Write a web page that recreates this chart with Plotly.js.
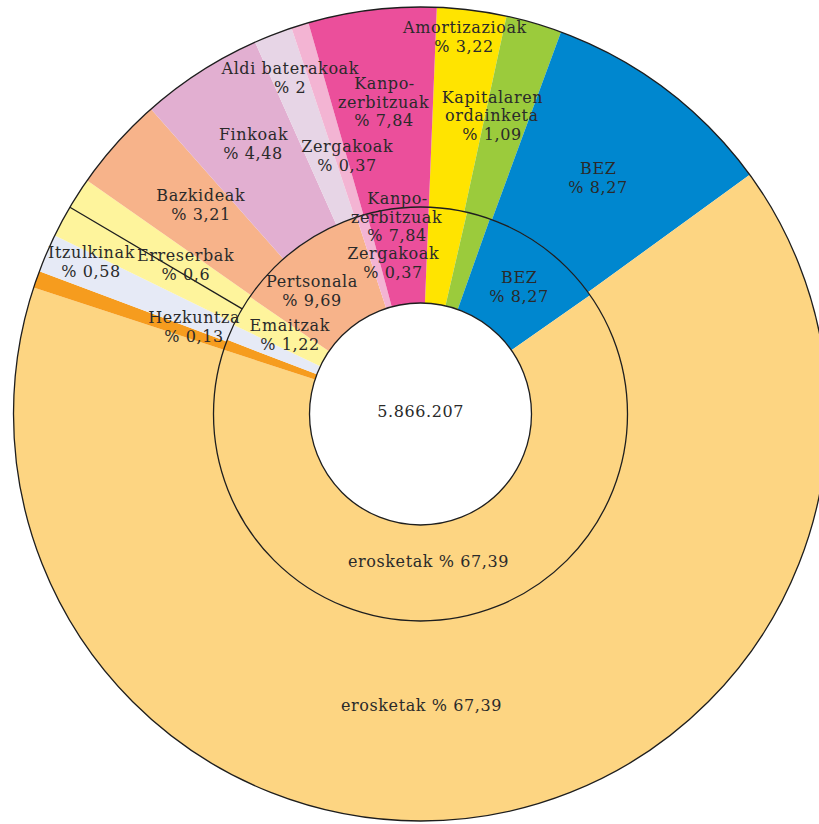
<!DOCTYPE html>
<html>
<head>
<meta charset="utf-8">
<script src="https://cdn.plot.ly/plotly-3.0.1.min.js"></script>
<style>
html, body { margin: 0; padding: 0; overflow: hidden; background: #fff; }
#chart { width: 841px; height: 824px; }
#chart .annotation-text { letter-spacing: 0.6px; }
</style>
</head>
<body>
<div id="chart"></div>
<script>
// ---- Data (shares of the circle) ----
const innerLabels = ["Amortizazioak", "Kapitalaren ordainketa", "BEZ", "erosketak", "Hezkuntza",
  "Itzulkinak", "Emaitzak", "Pertsonala", "Zergakoak", "Kanpo-zerbitzuak"];
const innerValues = [2.97, 1.83, 9.83, 64.75, 0.81, 1.25, 2.50, 10.42, 0.83, 4.81];
const innerColors = ["#FFE400", "#9BCB3C", "#0087CF", "#FDD582", "#F69C1E",
  "#E6EAF6", "#FEF49C", "#F7B38A", "#F3B4D3", "#EB4F9B"];

const outerLabels = ["Amortizazioak ", "Kapitalaren ordainketa ", "BEZ ", "erosketak ", "Hezkuntza ",
  "Itzulkinak ", "Emaitzak (beste)", "Erreserbak", "Bazkideak", "Finkoak", "Aldi baterakoak",
  "Zergakoak ", "Kanpo-zerbitzuak "];
const outerValues = [2.75, 2.22, 9.39, 65.03, 0.67, 1.53, 1.25, 1.25, 3.75, 4.86, 1.53, 0.69, 5.08];
const outerColors = ["#FFE400", "#9BCB3C", "#0087CF", "#FDD582", "#F69C1E",
  "#E6EAF6", "#FEF49C", "#FEF49C", "#F7B38A", "#E2AFD1", "#E7D5E6", "#F3B4D3", "#EB4F9B"];

const startAngle = 2.3; // degrees clockwise from 12 o'clock
const totalText = "5.866.207";

// label texts (percentages as printed): lines, centre x, centre y of block
const outerTexts = [
  [["Amortizazioak", "% 3,22"], 464, 37],
  [["Kapitalaren", "ordainketa", "% 1,09"], 492, 116],
  [["BEZ", "% 8,27"], 598, 178],
  [["erosketak % 67,39"], 422, 705],
  [["Hezkuntza", "% 0,13"], 194, 327],
  [["Itzulkinak", "% 0,58"], 91, 262],
  [["Erreserbak", "% 0,6"], 186, 265],
  [["Bazkideak", "% 3,21"], 201, 205],
  [["Finkoak", "% 4,48"], 253, 144],
  [["Aldi baterakoak", "% 2"], 290, 78],
  [["Zergakoak", "% 0,37"], 347, 156],
  [["Kanpo-", "zerbitzuak", "% 7,84"], 384, 102]
];
const innerTexts = [
  [["BEZ", "% 8,27"], 519, 287],
  [["erosketak % 67,39"], 428, 561],
  [["Emaitzak", "% 1,22"], 290, 335],
  [["Pertsonala", "% 9,69"], 312, 291],
  [["Zergakoak", "% 0,37"], 393, 263],
  [["Kanpo-", "zerbitzuak", "% 7,84"], 397, 217]
];

// ---- Geometry (pixels) ----
const W = 841, H = 824;
const CX = 420.5, CY = 414;       // centre, from top-left
const R_OUT = 407, R_MID = 207, R_HOLE = 111;
const LINE_GAP = 18.5;

const px = x => x / W;
const py = y => 1 - y / H;

function domainFor(r) {
  return { x: [px(CX - r), px(CX + r)], y: [py(CY + r), py(CY - r)] };
}

const outerPie = {
  type: "pie", labels: outerLabels, values: outerValues, sort: false,
  direction: "clockwise", rotation: startAngle, hole: R_MID / R_OUT,
  marker: { colors: outerColors, line: { width: 0 } },
  textinfo: "none", hoverinfo: "none", domain: domainFor(R_OUT), showlegend: false
};
const innerPie = {
  type: "pie", labels: innerLabels, values: innerValues, sort: false,
  direction: "clockwise", rotation: startAngle, hole: R_HOLE / R_MID,
  marker: { colors: innerColors, line: { width: 0 } },
  textinfo: "none", hoverinfo: "none", domain: domainFor(R_MID), showlegend: false
};

const font = { family: "DejaVu Serif, Liberation Serif, serif", size: 16, color: "#2a2a2a" };
const annotations = [];
outerTexts.concat(innerTexts).forEach(t => {
  const lines = t[0], n = lines.length;
  lines.forEach((ln, i) => {
    const yy = t[2] + (i - (n - 1) / 2) * LINE_GAP;
    annotations.push({ text: ln, x: px(t[1]), y: py(yy), xref: "paper", yref: "paper",
      showarrow: false, xanchor: "center", yanchor: "middle", align: "center", font: font });
  });
});
annotations.push({ text: totalText, x: px(CX), y: py(411), xref: "paper", yref: "paper",
  showarrow: false, font: font });

// circles
const shapes = [R_OUT, R_MID, R_HOLE].map(r => ({
  type: "circle", xref: "paper", yref: "paper",
  x0: px(CX - r), x1: px(CX + r), y0: py(CY + r), y1: py(CY - r),
  line: { color: "#1e1e1e", width: 1.3 }, fillcolor: "rgba(0,0,0,0)", layer: "above"
}));

// radial separator between the two yellow outer slices (from the data)
const totOut = outerValues.reduce((a, b) => a + b, 0);
const sepIndex = outerLabels.indexOf("Erreserbak");
const cumBefore = outerValues.slice(0, sepIndex).reduce((a, b) => a + b, 0);
const sepAng = (startAngle + 360 * cumBefore / totOut) * Math.PI / 180;
shapes.push({
  type: "line", xref: "paper", yref: "paper",
  x0: px(CX + R_MID * Math.sin(sepAng)), y0: py(CY - R_MID * Math.cos(sepAng)),
  x1: px(CX + R_OUT * Math.sin(sepAng)), y1: py(CY - R_OUT * Math.cos(sepAng)),
  line: { color: "#1e1e1e", width: 1.3 }, layer: "above"
});

const layout = {
  width: W, height: H, margin: { l: 0, r: 0, t: 0, b: 0 },
  paper_bgcolor: "#ffffff", showlegend: false,
  annotations: annotations, shapes: shapes
};

Plotly.newPlot("chart", [outerPie, innerPie], layout, { displayModeBar: false, staticPlot: true });
</script>
</body>
</html>
